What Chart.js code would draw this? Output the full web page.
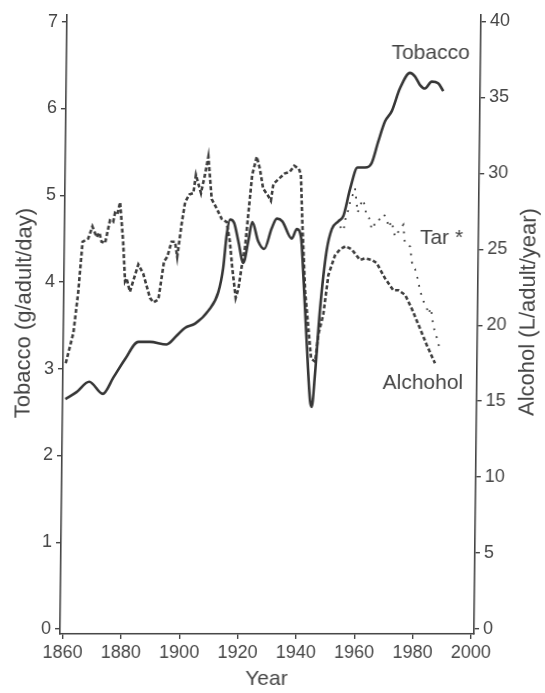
<!DOCTYPE html>
<html>
<head>
<meta charset="utf-8">
<script src="https://cdn.jsdelivr.net/npm/chart.js@4.4.1/dist/chart.umd.min.js"></script>
<style>
  html, body { margin: 0; padding: 0; background: #ffffff; }
  #wrap { width: 545px; height: 693px; overflow: hidden; }
  #c { display: block; transform: skewX(-0.65deg); transform-origin: 0 634px; }
</style>
</head>
<body>
<div id="wrap"><canvas id="c" width="545" height="693"></canvas></div>
<script>
// ---- Data ----
const tobaccoYears = [1860,1863.8,1868.1,1872.8,1876.4,1880.3,1884.8,1888.8,1894.5,1897.9,1900.7,1904.2,1908.7,1912.0,1913.6,1914.7,1915.8,1917.2,1918.7,1920.5,1922.1,1923.4,1925.5,1927.6,1930.1,1931.8,1933.7,1937.0,1938.7,1940.2,1941.1,1942.5,1943.9,1944.5,1945.5,1947.0,1949.0,1950.7,1952.9,1954.6,1956.8,1959.3,1961.9,1964.1,1966.3,1968.5,1970.8,1973.5,1976.9,1978.6,1980.4,1982.1,1984.4,1986.6,1988.4];
const tobaccoValues = [2.65,2.73,2.85,2.71,2.90,3.11,3.31,3.31,3.28,3.38,3.47,3.52,3.67,3.88,4.16,4.55,4.72,4.68,4.47,4.22,4.47,4.69,4.47,4.38,4.62,4.73,4.70,4.50,4.61,4.51,4.09,3.32,2.63,2.56,2.94,3.70,4.36,4.61,4.70,4.76,5.07,5.32,5.32,5.37,5.62,5.85,5.97,6.23,6.41,6.37,6.27,6.23,6.31,6.29,6.20];

const alcoholYears = [1860,1862.5,1864.0,1865.3,1867.2,1868.6,1870.1,1871.0,1871.8,1873.0,1874.6,1875.7,1876.3,1877.1,1878.0,1879.2,1880.0,1880.5,1881.7,1883.4,1884.5,1886.2,1888.6,1889.8,1891.5,1893.3,1894.4,1895.8,1897.0,1897.8,1899.2,1900.3,1901.7,1903.1,1903.9,1905.7,1907.0,1908.1,1909.4,1911.1,1912.9,1914.6,1915.8,1916.7,1918.0,1918.9,1919.9,1921.0,1922.0,1923.2,1924.7,1925.8,1927.0,1928.8,1929.7,1930.5,1932.7,1934.4,1936.1,1937.6,1939.2,1939.9,1940.6,1941.8,1944.1,1945.5,1946.5,1948.1,1949.7,1951.9,1953.6,1955.5,1957.6,1960.5,1962.2,1964.5,1966.2,1969.1,1972.0,1973.8,1976.1,1978.4,1981.3,1983.7,1986.6];
const alcoholValues = [17.5,19.5,22.2,25.5,25.7,26.5,25.8,26.1,25.5,25.4,26.9,26.8,27.4,27.3,28.1,25.5,22.9,23.1,22.2,23.3,24.0,23.4,21.8,21.5,21.7,24.2,24.5,25.5,25.5,24.5,26.7,28.1,28.6,28.7,29.9,28.7,29.9,31.1,28.3,27.7,27.0,26.8,25.5,23.8,21.8,22.4,23.8,25.1,27.3,29.9,31.1,30.3,29.0,28.5,28.2,29.3,29.7,30.0,30.1,30.5,30.3,29.9,26.6,22.2,17.8,17.6,19.4,20.7,23.3,24.6,25.0,25.2,25.0,24.3,24.4,24.3,24.1,23.1,22.3,22.3,22.0,21.1,19.8,18.7,17.5];

const tarYears = [1953.5,1954.7,1955.4,1956.5,1956.8,1958.5,1959.5,1960.9,1961.4,1962.6,1963.4,1964.4,1964.9,1966.1,1967.2,1968.3,1969.5,1970.1,1971.2,1972.4,1974.1,1975.2,1975.8,1977.6,1978.5,1979.4,1980.4,1981.2,1982.4,1983.6,1984.1,1985.0,1985.9,1987.1,1988.3];
const tarValues = [4.64,4.59,4.74,4.85,4.91,5.08,4.80,4.93,4.95,4.76,4.74,4.61,4.66,4.66,4.74,4.78,4.74,4.63,4.70,4.52,4.61,4.66,4.45,4.41,4.18,4.15,4.03,3.90,3.78,3.70,3.63,3.70,3.49,3.36,3.21];

const yearTicks = [1860,1880,1900,1920,1940,1960,1980,2000];
const tobaccoTicks = [0,1,2,3,4,5,6,7];
const alcoholTicks = [0,5,10,15,20,25,30,35,40];

const seriesLabels = { tobacco: 'Tobacco', tar: 'Tar *', alcohol: 'Alchohol' };
const axisTitles = { x: 'Year', left: 'Tobacco (g/adult/day)', right: 'Alcohol (L/adult/year)' };

// ---- Chart ----
const FONT = "'Liberation Sans', Arial, Helvetica, sans-serif";
const INK = '#363636';
const TXT = '#454545';

function pts(xs, ys) { return xs.map((x, i) => ({ x: x, y: ys[i] })); }

const labelPlugin = {
  id: 'labels',
  afterDraw(chart) {
    const ctx = chart.ctx;
    ctx.save();
    ctx.fillStyle = TXT;
    ctx.textBaseline = 'middle';
    ctx.textAlign = 'center';
    ctx.font = '21px ' + FONT;
    ctx.fillText(seriesLabels.tobacco, 424, 53);
    ctx.fillText(seriesLabels.tar, 437, 238);
    ctx.fillText(seriesLabels.alcohol, 420, 383);
    ctx.fillText(axisTitles.x, 267, 679);
    ctx.font = '22px ' + FONT;
    ctx.save();
    ctx.translate(21, 313);
    ctx.rotate(-Math.PI / 2);
    ctx.fillText(axisTitles.left, 0, 0);
    ctx.restore();
    ctx.save();
    ctx.translate(525, 312);
    ctx.rotate(-Math.PI / 2);
    ctx.fillText(axisTitles.right, 0, 0);
    ctx.restore();
    ctx.restore();
  }
};

function axisCommon(ticksArr) {
  return {
    grid: { display: true, drawOnChartArea: false, drawTicks: true, tickLength: 5, color: '#444', lineWidth: 1.4 },
    border: { display: true, color: '#444', width: 1.6 },
    ticks: { font: { size: 18, family: FONT }, color: TXT, padding: 4, autoSkip: false, maxRotation: 0 },
    afterBuildTicks: (s) => { s.ticks = ticksArr.map(v => ({ value: v })); }
  };
}

const xAxis = Object.assign(axisCommon(yearTicks), {
  type: 'linear', position: 'bottom', min: 1859.07, max: 2001.03,
  afterFit: (s) => { s.height = 59; }
});
xAxis.ticks = Object.assign({}, xAxis.ticks, { padding: 3, callback: (v) => String(v) });

const yAxis = Object.assign(axisCommon(tobaccoTicks), {
  type: 'linear', position: 'left', min: -0.0575, max: 7.08,
  afterFit: (s) => { s.width = 60; }
});
const y1Axis = Object.assign(axisCommon(alcoholTicks), {
  type: 'linear', position: 'right', min: -0.33, max: 40.44,
  afterFit: (s) => { s.width = 71; }
});

new Chart(document.getElementById('c'), {
  type: 'line',
  data: {
    datasets: [
      {
        label: seriesLabels.tobacco,
        data: pts(tobaccoYears, tobaccoValues),
        yAxisID: 'y', borderColor: INK, borderWidth: 2.6,
        cubicInterpolationMode: 'monotone', pointRadius: 0, fill: false
      },
      {
        label: seriesLabels.alcohol,
        data: pts(alcoholYears, alcoholValues),
        yAxisID: 'y1', borderColor: '#3e3e3e', borderWidth: 2.6, borderDash: [4, 2.4],
        tension: 0, pointRadius: 0, fill: false
      },
      {
        label: seriesLabels.tar,
        data: pts(tarYears, tarValues),
        yAxisID: 'y', borderColor: '#3e3e3e', borderWidth: 1.8, borderDash: [1.8, 6.5],
        tension: 0, pointRadius: 0, fill: false
      }
    ]
  },
  options: {
    responsive: false,
    animation: false,
    devicePixelRatio: 1,
    layout: { padding: { top: 13, left: 0, right: 0, bottom: 0 } },
    plugins: { legend: { display: false }, tooltip: { enabled: false }, title: { display: false } },
    scales: { x: xAxis, y: yAxis, y1: y1Axis }
  },
  plugins: [labelPlugin]
});
</script>
</body>
</html>
